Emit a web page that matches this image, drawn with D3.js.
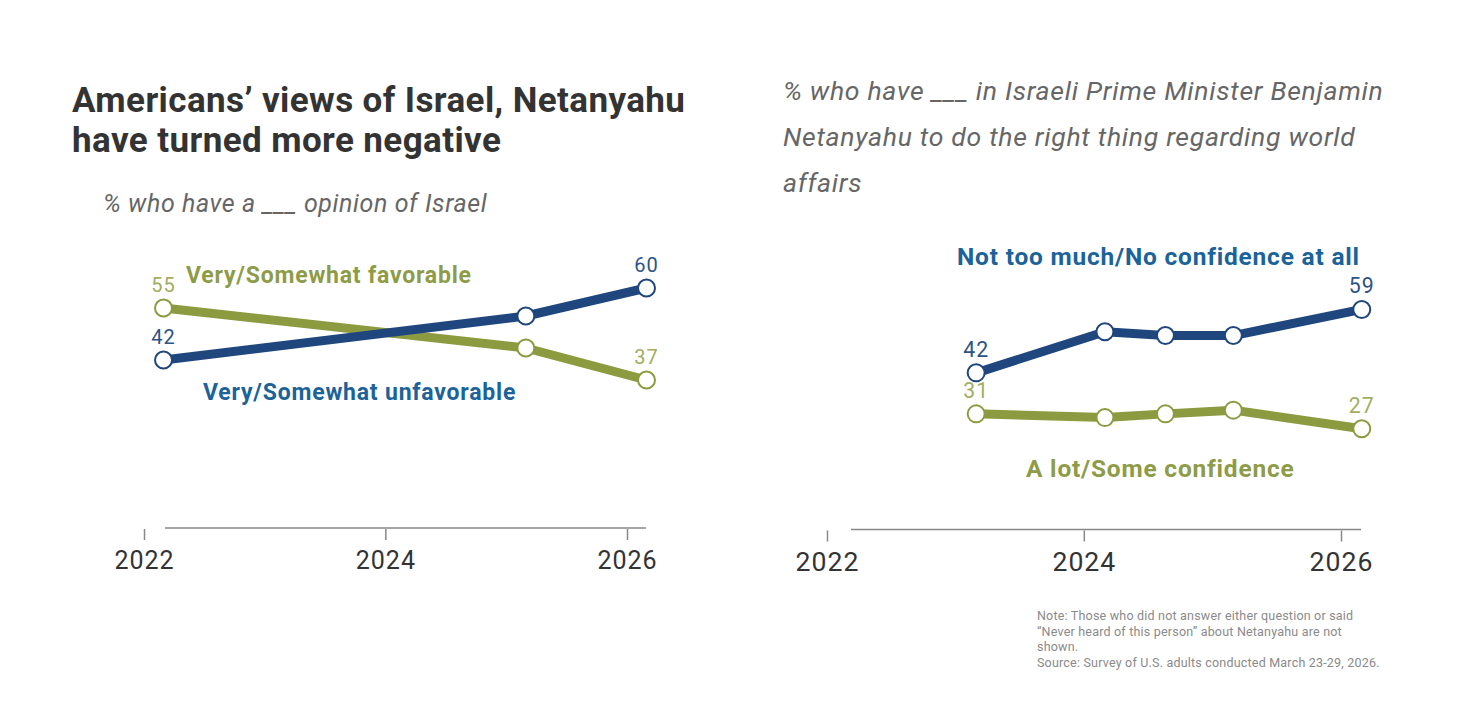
<!DOCTYPE html>
<html>
<head>
<meta charset="utf-8">
<script src="https://cdn.jsdelivr.net/npm/d3@7"></script>
<style>
  html, body { margin: 0; padding: 0; background: #fff; }
  svg text { font-family: Roboto, "Liberation Sans", sans-serif; }
</style>
</head>
<body>
<svg id="chart" width="1475" height="709"></svg>
<script>
// data
const israelDates = ['2022-03-01', '2025-03-01', '2026-03-01'];
const favorable = [55, 45, 37];
const unfavorable = [42, 53, 60];

const bibiDates = ['2023-03-01', '2024-03-01', '2024-08-20', '2025-03-01', '2026-03-01'];
const noConfidence = [42, 53, 52, 52, 59];
const someConfidence = [31, 30, 31, 32, 27];

const tickYears = ['2022', '2024', '2026'];

const BLUE = '#1f477e', BLUE_TXT = '#1b6399', BLUE_NUM = '#2e5287';
const GREEN = '#8c9b3f', GREEN_TXT = '#8e9b47', GREEN_NUM = '#a3ad5f';

const parse = d3.timeParse('%Y-%m-%d');
const svg = d3.select('#chart');

function panel(opts) {
    let g = svg.append('g');
    let k = opts.k; // the right panel is drawn a little larger
    let x = d3.scaleTime()
        .domain([new Date(2022, 0, 1), new Date(2026, 0, 1)])
        .range(opts.xr);
    let y = d3.scaleLinear().domain([0, 100]).range([opts.y0, opts.y0 - 100 * opts.ppt]);

    // axis: baseline spans the data, ticks hang below
    g.append('line')
        .attr('x1', opts.axisX[0]).attr('x2', opts.axisX[1])
        .attr('y1', opts.y0).attr('y2', opts.y0)
        .attr('stroke', '#888').attr('stroke-width', 1.5);

    let axis = d3.axisBottom(x)
        .tickValues(tickYears.map(t => new Date(+t, 0, 1)))
        .tickFormat(d3.timeFormat('%Y'))
        .tickSize(11)
        .tickPadding(11);
    let ax = g.append('g')
        .attr('transform', `translate(0,${opts.y0 + 1})`)
        .call(axis);
    ax.select('.domain').remove();
    ax.selectAll('.tick line').attr('stroke', '#888').attr('stroke-width', 1.5);
    ax.selectAll('.tick text')
        .attr('fill', '#333')
        .style('font-size', (25 * k) + 'px')
        .style('letter-spacing', '1px')
        .style('font-family', 'Roboto, sans-serif');

    let line = d3.line().x(d => x(d.date)).y(d => y(d.v));

    opts.series.forEach(s => {
        let pts = s.values.map((v, i) => ({ date: parse(opts.dates[i]), v: v }));
        g.append('path')
            .datum(pts)
            .attr('d', line)
            .attr('fill', 'none')
            .attr('stroke', s.color)
            .attr('stroke-width', 9)
            .attr('stroke-linejoin', 'round');

        g.selectAll(null).data(pts).enter().append('circle')
            .attr('cx', d => x(d.date))
            .attr('cy', d => y(d.v))
            .attr('r', 8.5)
            .attr('fill', '#fff')
            .attr('stroke', s.color)
            .attr('stroke-width', 2);

        // only the first and last values are labelled
        let ends = [pts[0], pts[pts.length - 1]];
        g.selectAll(null).data(ends).enter().append('text')
            .attr('x', d => x(d.date))
            .attr('y', d => y(d.v) - 16)
            .attr('text-anchor', 'middle')
            .attr('fill', s.numColor)
            .style('font-size', (20 * k) + 'px')
            .style('letter-spacing', '1px')
            .text(d => d.v);

        g.append('text')
            .attr('x', s.label.x)
            .attr('y', s.label.y)
            .attr('fill', s.txtColor)
            .style('font-size', (23 * k) + 'px')
            .style('letter-spacing', '0.8px')
            .style('font-weight', 'bold')
            .text(s.label.text);
    });
}

// title + subtitles
let title = svg.append('text')
    .attr('x', 72).attr('y', 112)
    .attr('fill', '#333')
    .style('font-size', '35px')
    .style('letter-spacing', '0.4px')
    .style('font-weight', 'bold');
title.append('tspan').attr('x', 72).attr('dy', 0).text('Americans\u2019 views of Israel, Netanyahu');
title.append('tspan').attr('x', 72).attr('dy', 40).text('have turned more negative');

svg.append('text')
    .attr('x', 103).attr('y', 212)
    .attr('fill', '#666')
    .style('font-size', '25px')
    .style('letter-spacing', '0.6px')
    .style('font-style', 'italic')
    .text('% who have a ___ opinion of Israel');

let sub = svg.append('text')
    .attr('x', 783).attr('y', 100)
    .attr('fill', '#666')
    .style('font-size', '26.6px')
    .style('letter-spacing', '0.7px')
    .style('font-style', 'italic');
['% who have ___ in Israeli Prime Minister Benjamin',
 'Netanyahu to do the right thing regarding world',
 'affairs'].forEach((t, i) => {
    sub.append('tspan').attr('x', 783).attr('dy', i ? 46 : 0).text(t);
});

panel({
    xr: [144, 627], y0: 528, ppt: 4, axisX: [165, 646], k: 1,
    dates: israelDates,
    series: [
        { values: favorable, color: GREEN, txtColor: GREEN_TXT, numColor: GREEN_NUM,
          label: { text: 'Very/Somewhat favorable', x: 186, y: 283 } },
        { values: unfavorable, color: BLUE, txtColor: BLUE_TXT, numColor: BLUE_NUM,
          label: { text: 'Very/Somewhat unfavorable', x: 203, y: 400 } }
    ]
});

panel({
    xr: [827, 1341], y0: 529.5, ppt: 3.73, axisX: [851, 1361], k: 1.064,
    dates: bibiDates,
    series: [
        { values: noConfidence, color: BLUE, txtColor: BLUE_TXT, numColor: BLUE_NUM,
          label: { text: 'Not too much/No confidence at all', x: 957, y: 265 } },
        { values: someConfidence, color: GREEN, txtColor: GREEN_TXT, numColor: GREEN_NUM,
          label: { text: 'A lot/Some confidence', x: 1026, y: 477 } }
    ]
});

// note
let note = svg.append('text')
    .attr('x', 1037).attr('y', 620)
    .attr('fill', '#8a8a8a')
    .style('font-size', '12.5px')
    .style('letter-spacing', '0.2px');
['Note: Those who did not answer either question or said',
 '\u201cNever heard of this person\u201d about Netanyahu are not',
 'shown.',
 'Source: Survey of U.S. adults conducted March 23-29, 2026.'].forEach((t, i) => {
    note.append('tspan').attr('x', 1037).attr('dy', i ? 15.5 : 0).text(t);
});
</script>
</body>
</html>
